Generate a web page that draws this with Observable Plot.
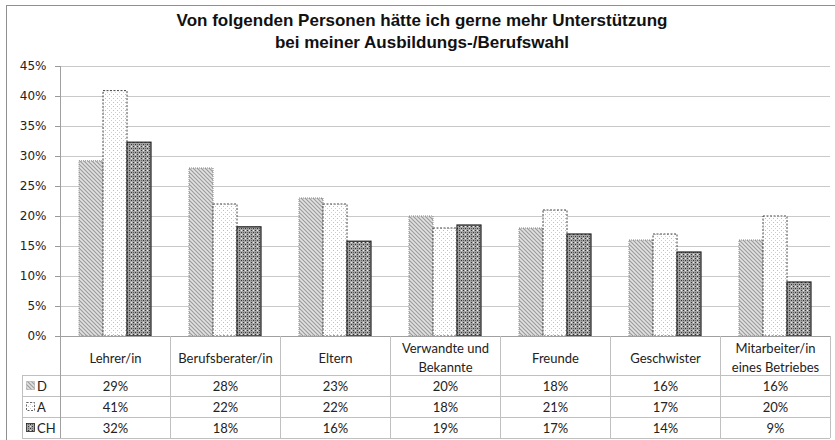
<!DOCTYPE html>
<html>
<head>
<meta charset="utf-8">
<script src="https://cdn.jsdelivr.net/npm/d3@7"></script>
<script src="https://cdn.jsdelivr.net/npm/@observablehq/plot@0.6"></script>
<style>
  html, body { margin: 0; padding: 0; background: #fff; }
  #wrap { position: relative; width: 835px; height: 440px; overflow: hidden; background: #fff; }
  #frame { position: absolute; left: 6px; top: 5px; width: 900px; height: 500px; border-left: 1px solid #8f8f8f; border-top: 1px solid #8f8f8f; }
  #title { position: absolute; left: 0; top: 10px; width: 844px; text-align: center; font-family: "Liberation Sans Narrow", "Arial Narrow", "Liberation Sans", sans-serif; font-weight: bold; font-size: 17px; line-height: 22px; color: #111; }
  #chart { position: absolute; left: 0; top: 50px; }
</style>
</head>
<body>
<div id="wrap">
  <div id="frame"></div>
  <div id="title">Von folgenden Personen hätte ich gerne mehr Unterstützung<br>bei meiner Ausbildungs-/Berufswahl</div>
  <div id="chart"></div>
</div>
<script>
const categories = ["Lehrer/in", "Berufsberater/in", "Eltern", "Verwandte und Bekannte", "Freunde", "Geschwister", "Mitarbeiter/in eines Betriebes"];
const categoryLabels = ["Lehrer/in", "Berufsberater/in", "Eltern", "Verwandte und\nBekannte", "Freunde", "Geschwister", "Mitarbeiter/in\neines Betriebes"];
const series = ["D", "A", "CH"];
const valuesD = [29.2, 28, 23, 20, 18, 16, 16];
const valuesA = [40.9, 22, 22, 18, 21, 17, 20];
const valuesCH = [32.3, 18.2, 15.8, 18.5, 17, 14, 9];
const yTicks = [0, 5, 10, 15, 20, 25, 30, 35, 40, 45];

const seriesValues = [valuesD, valuesA, valuesCH];
const data = categories.flatMap((c, i) => series.map((s, j) => ({cat: c, series: s, value: seriesValues[j][i]})));
const bySeries = s => data.filter(d => d.series === s);

const styles = {
  D: {fill: "url(#patD)", stroke: "#8a8a8a", strokeDasharray: "1,1", strokeWidth: 1},
  A: {fill: "url(#patA)", stroke: "#444", strokeDasharray: "2,1.5", strokeWidth: 1},
  CH: {fill: "url(#patCH)", stroke: "#222", strokeWidth: 1.2}
};
const rowDy = {D: 50, A: 71, CH: 92};
const tableFont = "Lato, 'Open Sans', sans-serif";

const plot = Plot.plot({
  width: 835,
  height: 390,
  marginTop: 16,
  marginBottom: 104,
  marginLeft: 59,
  marginRight: 5,
  style: {background: "transparent", overflow: "visible", fontFamily: "'DejaVu Sans', sans-serif", fontSize: "12px", color: "#222"},
  fx: {domain: categories, padding: 0, axis: null, label: null},
  x: {domain: series, paddingInner: 0, paddingOuter: 0.73, axis: null},
  y: {domain: [0, 45], axis: null},
  marks: [
    Plot.gridY(yTicks, {stroke: "#c9c9c9", strokeOpacity: 1}),
    Plot.axisY(yTicks, {tickSize: 5, tickPadding: 9, tickFormat: d => d + "%", stroke: "#999", fill: "#222", fontSize: 12, label: null}),
    ...series.map(s => Plot.barY(bySeries(s), {fx: "cat", x: "series", y: "value", ...styles[s]})),
    Plot.ruleY([0], {stroke: "#a0a0a0"}),
    Plot.text(categories, {fx: d => d, text: d => categoryLabels[categories.indexOf(d)], frameAnchor: "bottom", lineAnchor: "middle", dy: 20, lineHeight: 1.5, fontSize: 13, fontFamily: tableFont, fill: "#222"}),
    ...series.map(s => Plot.text(bySeries(s), {fx: "cat", text: d => Math.round(d.value) + "%", frameAnchor: "bottom", lineAnchor: "middle", dy: rowDy[s], fontSize: 13, fontFamily: tableFont, fill: "#222"}))
  ]
});

document.getElementById("chart").appendChild(plot);

// patterns
const svg = d3.select(plot);
const defs = svg.insert("defs", ":first-child");
const pD = defs.append("pattern").attr("id", "patD").attr("patternUnits", "userSpaceOnUse").attr("width", 4).attr("height", 4);
pD.append("rect").attr("width", 4).attr("height", 4).attr("fill", "#e2e2e2");
pD.append("path").attr("d", "M-1,-1L5,5M-1,3L1,5M3,-1L5,1").attr("stroke", "#9c9c9c").attr("stroke-width", 1.2);
const pA = defs.append("pattern").attr("id", "patA").attr("patternUnits", "userSpaceOnUse").attr("width", 4).attr("height", 4);
pA.append("rect").attr("width", 4).attr("height", 4).attr("fill", "#fff");
pA.append("rect").attr("x", 0).attr("y", 0).attr("width", 1).attr("height", 1).attr("fill", "#bdbdbd");
pA.append("rect").attr("x", 2).attr("y", 2).attr("width", 1).attr("height", 1).attr("fill", "#cfcfcf");
const pC = defs.append("pattern").attr("id", "patCH").attr("patternUnits", "userSpaceOnUse").attr("width", 4).attr("height", 4);
pC.append("rect").attr("width", 4).attr("height", 4).attr("fill", "#a4a4a4");
pC.append("rect").attr("x", 0).attr("y", 0).attr("width", 1).attr("height", 1).attr("fill", "#333");
pC.append("rect").attr("x", 2).attr("y", 2).attr("width", 1).attr("height", 1).attr("fill", "#333");
pC.append("rect").attr("x", 2).attr("y", 0).attr("width", 1).attr("height", 1).attr("fill", "#eee");
pC.append("rect").attr("x", 0).attr("y", 2).attr("width", 1).attr("height", 1).attr("fill", "#666");

// table grid lines and y axis line
const fx = plot.scale("fx");
const ys = plot.scale("y");
const bw = fx.bandwidth;
const xs = categories.map(c => fx.apply(c));
const x0 = xs[0], x1 = xs[xs.length - 1] + bw;
const y0 = ys.apply(0), yTop = ys.apply(45);
const rowLines = [39, 60, 81, 102].map(d => y0 + d);
const yBottom = rowLines[rowLines.length - 1];
const leftCol = 22;
const g = svg.append("g").attr("stroke", "#c0c0c0").attr("stroke-width", 1).attr("shape-rendering", "crispEdges");
xs.slice(1).concat([x1]).forEach(x => g.append("line").attr("x1", x).attr("x2", x).attr("y1", y0).attr("y2", yBottom));
rowLines.forEach(y => g.append("line").attr("x1", leftCol).attr("x2", x1).attr("y1", y).attr("y2", y));
g.append("line").attr("x1", leftCol).attr("x2", leftCol).attr("y1", rowLines[0]).attr("y2", yBottom);
svg.append("line").attr("x1", x0).attr("x2", x0).attr("y1", yTop).attr("y2", yBottom).attr("stroke", "#a0a0a0").attr("shape-rendering", "crispEdges");

// legend keys in the table
series.forEach((s, j) => {
  const yc = y0 + rowDy[s];
  svg.append("rect").attr("x", 26.5).attr("y", yc - 4.5).attr("width", 8).attr("height", 8)
    .attr("fill", styles[s].fill).attr("stroke", styles[s].stroke).attr("stroke-dasharray", styles[s].strokeDasharray || null).attr("stroke-width", 0.8);
  svg.append("text").attr("x", 37).attr("y", yc).attr("dy", "0.35em").attr("text-anchor", "start").attr("font-family", tableFont).attr("font-size", 13).attr("fill", "#222").text(s);
});
</script>
</body>
</html>
